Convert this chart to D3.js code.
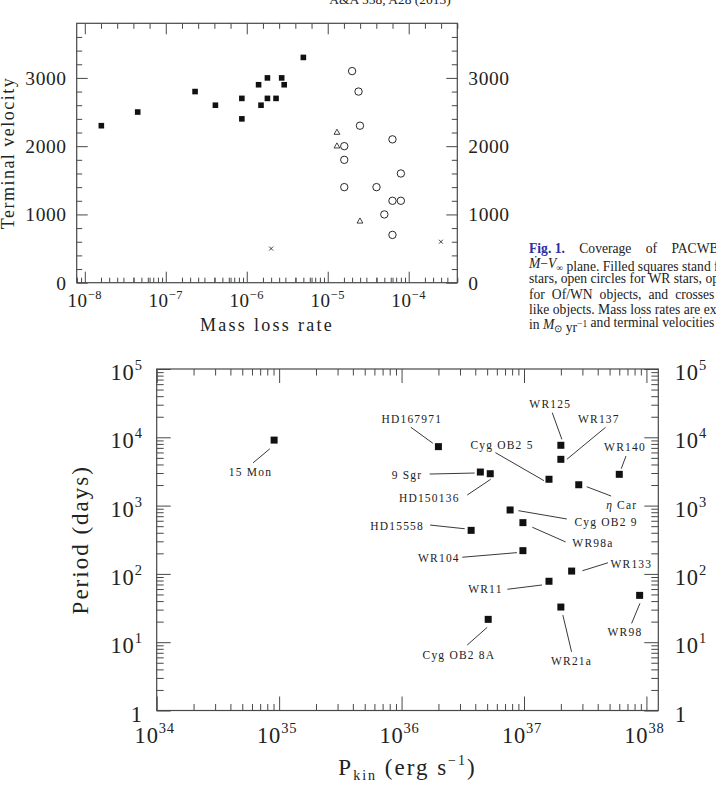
<!DOCTYPE html>
<html><head><meta charset="utf-8">
<script src="https://cdn.jsdelivr.net/npm/d3@7"></script>
<style>
body{margin:0;background:#fff;}
svg{display:block;}
text{font-family:"Liberation Serif","Times New Roman",serif;fill:#222;}
</style></head><body>
<svg id="c" width="716" height="787"></svg>
<script>
// ---------------- DATA ----------------
// Top panel: mass loss rate (Msun/yr) vs terminal velocity (km/s)
const oStarMdot = [1.6e-8, 4.5e-8, 2.3e-7, 4.1e-7, 8.7e-7, 8.7e-7, 1.4e-6, 1.5e-6, 1.8e-6, 1.8e-6, 2.3e-6, 2.7e-6, 2.9e-6, 5.0e-6];
const oStarVinf = [2300, 2500, 2800, 2600, 2700, 2400, 2900, 2600, 3000, 2700, 2700, 3000, 2900, 3300];
const wrMdot = [2.0e-5, 2.4e-5, 2.5e-5, 1.6e-5, 1.6e-5, 1.6e-5, 6.3e-5, 8.0e-5, 4.0e-5, 6.3e-5, 8.0e-5, 5.0e-5, 6.3e-5];
const wrVinf = [3100, 2800, 2300, 2000, 1800, 1400, 2100, 1600, 1400, 1200, 1200, 1000, 700];
const ofwnMdot = [1.3e-5, 1.3e-5, 2.5e-5];
const ofwnVinf = [2200, 2000, 900];
const lbvMdot = [2.0e-6, 2.5e-4];
const lbvVinf = [500, 600];
const topYTicks = [0, 1000, 2000, 3000];
const topXExps = [-8, -7, -6, -5, -4];

// Bottom panel: kinetic power (erg/s) vs period (days)
const systems = ["15 Mon", "HD167971", "9 Sgr", "HD150136", "Cyg OB2 5", "WR125", "WR137", "WR140", "η Car",
  "Cyg OB2 9", "WR98a", "HD15558", "WR104", "WR133", "WR11", "WR98", "WR21a", "Cyg OB2 8A"];
const pkin = [9.1e34, 2.0e36, 4.4e36, 5.3e36, 1.6e37, 2.0e37, 2.0e37, 6.0e37, 2.8e37,
  7.7e36, 9.8e36, 3.7e36, 9.8e36, 2.45e37, 1.6e37, 8.8e37, 2.0e37, 5.1e36];
const period = [9100, 7300, 3100, 2930, 2430, 7640, 4760, 2870, 2020,
  863, 563, 434, 219, 110, 78, 48.5, 32.7, 21.6];
const botXExps = [34, 35, 36, 37, 38];
const botYExps = [0, 1, 2, 3, 4, 5];

// Annotation layout (pixel offsets from the marker): [labelDx, labelDy, line x1, y1, x2, y2]
const labelLayout = [
  [-23.6, 32.3, -4.3, 8.7, -21, 22.7],
  [-26.6, -27.4, -5.6, -3.4, -27.6, -19.4],
  [-73.3, 2.7, -50.7, 2, -5.7, 1],
  [-61, 24, -23, 21.3, 0.4, 5.6],
  [-47, -34.6, -53.6, -26.6, -5, 1.4],
  [-10.6, -41.3, -8.6, -32.6, 1, -6],
  [38, -40, 44.7, -32, 6, 0],
  [5.7, -27.3, 6.7, -18.3, 2, -5.6],
  [43, 20.3, 8, 2, 32.4, 11.3],
  [96, 11.7, 8.3, 0.7, 56.7, 9],
  [70, 20.6, 9.4, 4.6, 42.7, 19.3],
  [-74, -4.6, -41, -5.3, -6.4, -1.6],
  [-84, 7, -60.6, 6.6, -6, 2],
  [59.7, -7, 36.3, -8.3, 10.7, -0.3],
  [-63.6, 8, -41.6, 8, -7, 3.7],
  [-14.7, 36.4, 0.3, 8, -8, 28],
  [10.7, 53.7, 2, 8, 10.7, 44.7],
  [-29.3, 35.7, -1, 8, -21, 25.7]
];

// ---------------- DRAW ----------------
const svg = d3.select('#c');
const AX = '#474747';
const INK = '#111';

function tickLayer(scale, orient, values, size, tr) {
  const gen = {bottom: d3.axisBottom, top: d3.axisTop, left: d3.axisLeft, right: d3.axisRight}[orient];
  const g = svg.append('g').attr('transform', tr)
    .call(gen(scale).tickValues(values).tickSize(size).tickFormat(''));
  g.select('.domain').remove();
  g.selectAll('line').attr('stroke', AX).attr('stroke-width', 1);
  return g;
}
function logMinors(e0, e1, lo, hi) {
  const out = [];
  for (let e = e0; e <= e1; e++) for (let k = 2; k <= 9; k++) {
    const v = k * Math.pow(10, e);
    if (v >= lo * 0.999 && v <= hi * 1.001) out.push(v);
  }
  return out;
}
function stepMinors(lo, hi, step) {
  const out = [];
  const a = Math.log10(lo), b = Math.log10(hi);
  for (let l = Math.ceil(a / step - 1e-6) * step; l <= b + 1e-6; l += step) {
    if (Math.abs(l - Math.round(l)) > 1e-6) out.push(Math.pow(10, l));
  }
  return out;
}
function powText(sel, exp, main, sup, lift) {
  sel.append('tspan').attr('font-size', main).text('10');
  sel.append('tspan').attr('font-size', sup).attr('dy', -lift).text(exp);
}

// ===== Header
svg.append('text').attr('x', 390).attr('y', 4).attr('text-anchor', 'middle')
  .attr('font-size', 13.5).attr('fill', '#333').text('A&A 558, A28 (2013)');

// ===== Top panel
const T = {x0: 76.7, x1: 457.3, y0: 23.3, y1: 282.7};
const xT = d3.scaleLog().domain([Math.pow(10, -8.1), Math.pow(10, -3.4)]).range([T.x0, T.x1]);
const yT = d3.scaleLinear().domain([0, 3800]).range([T.y1, T.y0]);
const [tlo, thi] = xT.domain();
const tMaj = topXExps.map(e => Math.pow(10, e));
const tMin = logMinors(-9, -4, tlo, thi);
const tStep = stepMinors(tlo, thi, 0.2);
tickLayer(xT, 'bottom', tMin, -5, `translate(0,${T.y1})`);
tickLayer(xT, 'bottom', tStep, -5, `translate(0,${T.y1})`);
tickLayer(xT, 'bottom', tMaj, -11, `translate(0,${T.y1})`);
tickLayer(xT, 'top', tStep, -5.5, `translate(0,${T.y0})`);
tickLayer(xT, 'top', tMaj, -11, `translate(0,${T.y0})`);
const yMinT = d3.range(200, 3800, 200).filter(v => v % 1000 !== 0);
tickLayer(yT, 'left', yMinT, -5.5, `translate(${T.x0},0)`);
tickLayer(yT, 'left', topYTicks, -11, `translate(${T.x0},0)`);
tickLayer(yT, 'right', yMinT, -5.5, `translate(${T.x1},0)`);
tickLayer(yT, 'right', topYTicks, -11, `translate(${T.x1},0)`);
svg.append('rect').attr('x', T.x0).attr('y', T.y0).attr('width', T.x1 - T.x0).attr('height', T.y1 - T.y0)
  .attr('fill', 'none').attr('stroke', AX).attr('stroke-width', 1.2);

topXExps.forEach(e => {
  const t = svg.append('text').attr('x', xT(Math.pow(10, e))).attr('y', 307)
    .attr('text-anchor', 'middle').attr('letter-spacing', 0.6);
  powText(t, '\u2212' + Math.abs(e), 19, 12.5, 8);
});
topYTicks.forEach(v => {
  svg.append('text').attr('x', T.x0 - 10).attr('y', yT(v) + 6.8).attr('text-anchor', 'end')
    .attr('font-size', 19.5).attr('letter-spacing', 0.6).text(v);
  svg.append('text').attr('x', T.x1 + 11).attr('y', yT(v) + 6.8).attr('text-anchor', 'start')
    .attr('font-size', 19.5).attr('letter-spacing', 0.6).text(v);
});
svg.append('text').attr('transform', `translate(14,${(T.y0 + T.y1) / 2}) rotate(-90)`)
  .attr('text-anchor', 'middle').attr('font-size', 18).attr('letter-spacing', 1.5).text('Terminal velocity');
svg.append('text').attr('x', (T.x0 + T.x1) / 2).attr('y', 331)
  .attr('text-anchor', 'middle').attr('font-size', 18).attr('letter-spacing', 2.3).text('Mass loss rate');

// markers
const sqT = 5.6;
svg.append('g').selectAll('rect').data(oStarMdot).join('rect')
  .attr('x', (d, i) => xT(d) - sqT / 2).attr('y', (d, i) => yT(oStarVinf[i]) - sqT / 2)
  .attr('width', sqT).attr('height', sqT).attr('fill', INK);
svg.append('g').selectAll('circle').data(wrMdot).join('circle')
  .attr('cx', d => xT(d)).attr('cy', (d, i) => yT(wrVinf[i])).attr('r', 3.7)
  .attr('fill', 'none').attr('stroke', INK).attr('stroke-width', 0.9);
svg.append('g').selectAll('path').data(ofwnMdot).join('path')
  .attr('transform', (d, i) => `translate(${xT(d)},${yT(ofwnVinf[i])})`)
  .attr('d', 'M0,-3.3L2.9,1.8L-2.9,1.8Z').attr('fill', 'none').attr('stroke', INK).attr('stroke-width', 0.8);
svg.append('g').selectAll('path').data(lbvMdot).join('path')
  .attr('transform', (d, i) => `translate(${xT(d)},${yT(lbvVinf[i])})`)
  .attr('d', 'M-2,-2L2,2M-2,2L2,-2').attr('stroke', INK).attr('stroke-width', 0.8);

// ===== Caption
const capX = 529;
const capLines = [
  {ws: 11, parts: [['Fig.\u00A01.', {weight: 'bold', fill: '#2b2fa8', ws0: true}], [' Coverage of PACWB catalogue in the']]},
  {ws: 0, parts: [['\u1E40', {style: 'italic'}], ['\u2212'], ['V', {style: 'italic'}], ['\u221E', {sub: true}], [' plane. Filled squares stand for O']]},
  {ws: 0, parts: [['stars, open circles for WR stars, open triangles']]},
  {ws: 3.6, parts: [['for Of/WN objects, and crosses for LBV-']]},
  {ws: 0, parts: [['like objects. Mass loss rates are expressed']]},
  {ws: 0, parts: [['in '], ['M', {style: 'italic'}], ['\u2299', {sub: true}], [' yr'], ['\u22121', {sup: true}], [' and terminal velocities in km s'], ['\u22121', {sup: true}], ['.']]}
];
capLines.forEach((ln, i) => {
  const t = svg.append('text').attr('x', capX).attr('y', 253 + i * 15.2).attr('font-size', 13.6)
    .attr('fill', '#222');
  ln.parts.forEach(([s, o]) => {
    o = o || {};
    const sp = t.append('tspan').text(s).attr('word-spacing', o.ws0 ? 0 : ln.ws);
    if (o.weight) sp.attr('font-weight', o.weight);
    if (o.fill) sp.attr('fill', o.fill);
    if (o.style) sp.attr('font-style', o.style);
    if (o.sub) { sp.attr('font-size', 9.5).attr('dy', 2.5); t.append('tspan').attr('dy', -2.5).text(''); }
    if (o.sup) { sp.attr('font-size', 9.5).attr('dy', -5); t.append('tspan').attr('dy', 5).text(''); }
  });
});

// ===== Bottom panel
const B = {x0: 156.7, x1: 658.3, y0: 369, y1: 710.5};
const xB = d3.scaleLog().domain([1e34, 1.25e38]).range([B.x0, B.x1]);
const yB = d3.scaleLog().domain([1, 1e5]).range([B.y1, B.y0]);
const bxMaj = botXExps.map(e => Math.pow(10, e));
const bxMin = logMinors(34, 38, 1e34, 1.25e38);
const byMaj = botYExps.map(e => Math.pow(10, e));
const byMin = logMinors(0, 4, 1, 1e5);
tickLayer(xB, 'bottom', bxMin, -6.5, `translate(0,${B.y1})`);
tickLayer(xB, 'bottom', bxMaj, -14, `translate(0,${B.y1})`);
tickLayer(xB, 'top', bxMin, -6.5, `translate(0,${B.y0})`);
tickLayer(xB, 'top', bxMaj, -14, `translate(0,${B.y0})`);
tickLayer(yB, 'left', byMin, -7, `translate(${B.x0},0)`);
tickLayer(yB, 'left', byMaj, -14, `translate(${B.x0},0)`);
tickLayer(yB, 'right', byMin, -7, `translate(${B.x1},0)`);
tickLayer(yB, 'right', byMaj, -14, `translate(${B.x1},0)`);
svg.append('rect').attr('x', B.x0).attr('y', B.y0).attr('width', B.x1 - B.x0).attr('height', B.y1 - B.y0)
  .attr('fill', 'none').attr('stroke', AX).attr('stroke-width', 1.2);

botXExps.forEach(e => {
  const t = svg.append('text').attr('x', xB(Math.pow(10, e)) - 2).attr('y', 743)
    .attr('text-anchor', 'middle').attr('letter-spacing', 0.8);
  powText(t, String(e), 22.5, 14.5, 10);
});
botYExps.forEach(e => {
  const yy = yB(Math.pow(10, e)) + 11;
  [[B.x0 - 14, 'end'], [B.x1 + 16.5, 'start']].forEach(([xx, anc]) => {
    const t = svg.append('text').attr('x', xx).attr('y', yy).attr('text-anchor', anc).attr('letter-spacing', 0.8);
    if (e === 0) t.append('tspan').attr('font-size', 22.5).text('1');
    else powText(t, String(e), 22.5, 14.5, 10);
  });
});
svg.append('text').attr('transform', `translate(88,${(B.y0 + B.y1) / 2}) rotate(-90)`)
  .attr('text-anchor', 'middle').attr('font-size', 23).attr('letter-spacing', 2).text('Period (days)');
{
  const t = svg.append('text').attr('x', (B.x0 + B.x1) / 2).attr('y', 775).attr('text-anchor', 'middle')
    .attr('letter-spacing', 2);
  t.append('tspan').attr('font-size', 23).text('P');
  t.append('tspan').attr('font-size', 14).attr('dy', 5).text('kin');
  t.append('tspan').attr('font-size', 23).attr('dy', -5).text(' (erg s');
  t.append('tspan').attr('font-size', 14).attr('dy', -10).text('\u22121');
  t.append('tspan').attr('font-size', 23).attr('dy', 10).text(')');
}

// leader lines + labels
const ann = svg.append('g');
systems.forEach((name, i) => {
  const px = xB(pkin[i]), py = yB(period[i]);
  const L = labelLayout[i];
  ann.append('line').attr('x1', px + L[2]).attr('y1', py + L[3]).attr('x2', px + L[4]).attr('y2', py + L[5])
    .attr('stroke', '#222').attr('stroke-width', 0.9);
  const t = ann.append('text').attr('x', px + L[0]).attr('y', py + L[1]).attr('dy', '0.35em')
    .attr('text-anchor', 'middle').attr('font-size', 11.5).attr('letter-spacing', 1.2);
  if (name.startsWith('η')) {
    t.append('tspan').attr('font-style', 'italic').text('η');
    t.append('tspan').text(name.slice(1));
  } else t.text(name);
});
const sqB = 7;
svg.append('g').selectAll('rect').data(pkin).join('rect')
  .attr('x', d => xB(d) - sqB / 2).attr('y', (d, i) => yB(period[i]) - sqB / 2)
  .attr('width', sqB).attr('height', sqB).attr('fill', INK);
</script></body></html>
